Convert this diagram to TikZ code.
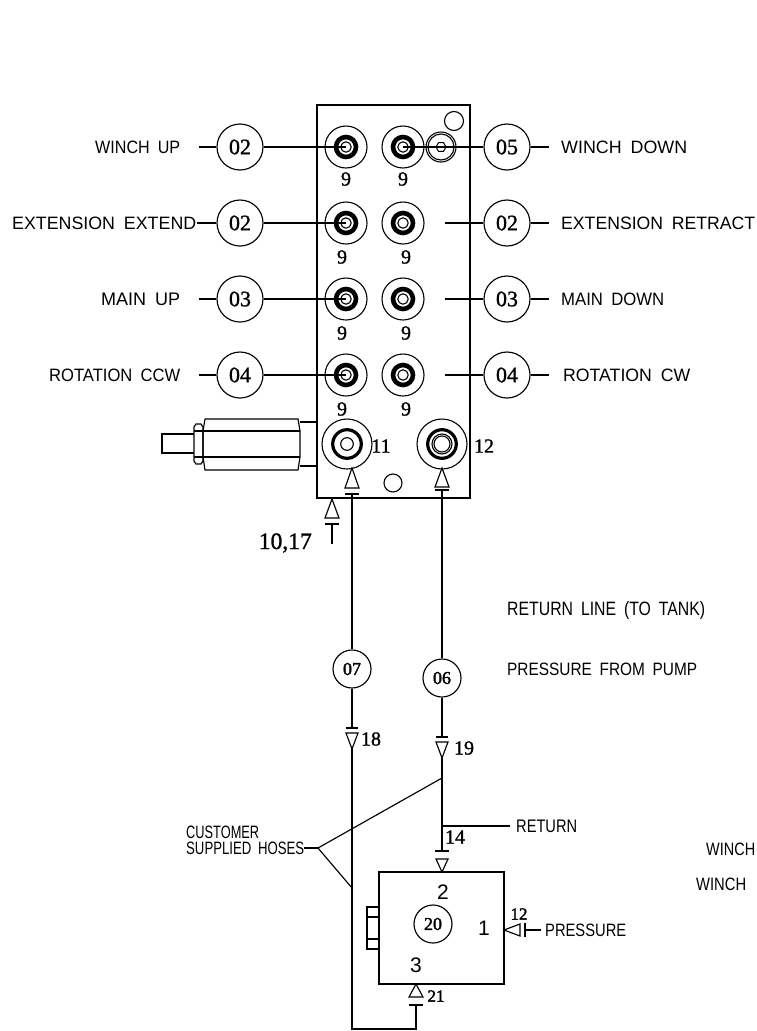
\documentclass[tikz,border=0pt]{standalone}
\usepackage{graphicx}
\usepackage{fontspec}
\setmainfont{Liberation Sans}
\newfontfamily\numfont[FakeBold=1.2]{Liberation Serif}
\newfontfamily\numbold[FakeBold=2]{Liberation Serif}
\newcommand{\gap}{\hspace{0.5em}}
\newcommand{\lbl}[2]{\resizebox{#1pt}{12.5pt}{#2}}
\newcommand{\lblp}[2]{\resizebox{#1pt}{14pt}{#2}}
\tikzset{
  line/.style={draw=black,line width=1.15pt},
  balloon/.style={circle,draw=black,line width=1.15pt,minimum size=46pt,inner sep=0pt,font=\numfont\fontsize{22}{23}\selectfont},
  sballoon/.style={balloon,minimum size=38pt,font=\numbold\fontsize{18}{19}\selectfont},
  txt/.style={inner sep=0pt,anchor=west},
  num/.style={inner sep=0pt,font=\numfont\fontsize{20}{21}\selectfont},
  numb/.style={inner sep=0pt,font=\numbold\fontsize{17}{18}\selectfont},
  pnum/.style={inner sep=0pt,font=\fontsize{21}{22}\selectfont},
  port/.style={circle,draw=black,line width=1.1pt,minimum size=42pt,inner sep=0pt},
  bigport/.style={circle,draw=black,line width=1.1pt,minimum size=50pt,inner sep=0pt}
}
\newcommand{\rings}[1]{
  \draw[line width=4.6pt] (#1) circle (10pt);
  \draw[line width=1.1pt] (#1) circle (5.2pt);
}
\newcommand{\triup}[3]{\draw[line] (#1-7,#3) -- (#1,#2) -- (#1+7,#3) -- cycle;}
\newcommand{\tridown}[3]{\draw[line] (#1-6,#2) -- (#1,#3) -- (#1+6,#2) -- cycle;}
\begin{document}
\begin{tikzpicture}[x=1pt,y=-1pt]
\useasboundingbox (0,0) rectangle (757,1031);
\fill[white] (0,0) rectangle (757,1031);

% manifold block
\node[draw=black,line width=1.3pt,minimum width=153pt,minimum height=393pt,inner sep=0pt] (block) at (393.5,301.5) {};

% ports rows 1-4
\foreach \n/\y in {1/147,2/223,3/299,4/375}{
  \node[port] (pl\n) at (346,\y) {};
  \node[port] (pr\n) at (403,\y) {};
  \rings{pl\n.center}
  \rings{pr\n.center}
}
\node[num] (n1a) at (346,179) {9};
\node[num] (n1b) at (403,179) {9};
\node[num] (n2a) at (342,257) {9};
\node[num] (n2b) at (406,257) {9};
\node[num] (n3a) at (342,333) {9};
\node[num] (n3b) at (406,333) {9};
\node[num] (n4a) at (342,409) {9};
\node[num] (n4b) at (406,409) {9};

% small details on block
\node[circle,draw=black,line width=1.1pt,minimum size=19pt,inner sep=0pt] (dotA) at (454,121) {};
\node[circle,draw=black,line width=1.1pt,minimum size=18pt,inner sep=0pt] (dotB) at (393,483) {};
\node[circle,draw=black,line width=1.1pt,minimum size=30pt,inner sep=0pt] (plugO) at (441,147) {};
\node[circle,draw=black,line width=1.1pt,minimum size=26pt,inner sep=0pt] (plugI) at (441,147) {};
\draw[line width=1pt] (441,147) ++(-5,0) -- ++(2.5,-4.3) -- ++(5,0) -- ++(2.5,4.3) -- ++(-2.5,4.3) -- ++(-5,0) -- cycle;

% balloons
\node[balloon] (bl1) at (240,147) {02};
\node[balloon] (bl2) at (240,223) {02};
\node[balloon] (bl3) at (240,299) {03};
\node[balloon] (bl4) at (240,375) {04};
\node[balloon] (br1) at (507,147) {05};
\node[balloon] (br2) at (507,223) {02};
\node[balloon] (br3) at (507,299) {03};
\node[balloon] (br4) at (507,375) {04};

% left labels
\node[txt] (t1) at (95,147) {\lbl{85}{WINCH\gap UP}};
\node[txt] (t2) at (12,223) {\lbl{184}{EXTENSION\gap EXTEND}};
\node[txt] (t3) at (101,299) {\lbl{79}{MAIN\gap UP}};
\node[txt] (t4) at (49,375) {\lbl{131}{ROTATION\gap CCW}};
% right labels
\node[txt] (t5) at (561,147) {\lbl{126}{WINCH\gap DOWN}};
\node[txt] (t6) at (561,223) {\lbl{194}{EXTENSION\gap RETRACT}};
\node[txt] (t7) at (561,299) {\lbl{103}{MAIN\gap DOWN}};
\node[txt] (t8) at (563,375) {\lbl{127}{ROTATION\gap CW}};

% leaders: left
\coordinate (a1) at (199,147);
\coordinate (a2) at (197,223);
\coordinate (a3) at (199,299);
\coordinate (a4) at (199,375);
\foreach \n in {1,2,3,4}{
  \draw[line] (a\n) -- (bl\n.west);
  \draw[line] (bl\n.east) -- (pl\n.center);
}
% leaders: right
\foreach \n in {1,2,3,4}{
  \draw[line] (br\n.east) -- (549,\n*76+71);
}
\draw[line] (br1.west) -- (pr1.center);
\coordinate (g2) at (445,223);
\coordinate (g3) at (445,299);
\coordinate (g4) at (445,375);
\draw[line] (br2.west) -- (g2);
\draw[line] (br3.west) -- (g3);
\draw[line] (br4.west) -- (g4);

% lower ports
\node[bigport] (p11) at (347,444) {};
\node[bigport] (p12) at (442,444) {};
\draw[line width=3.2pt] (p11.center) circle (14.3pt);
\draw[line width=1.1pt] (p11.center) circle (6.3pt);
\draw[line width=3.2pt] (p12.center) circle (14.3pt);
\draw[line width=1.1pt] (p12.center) circle (10pt);
\draw[line width=1.1pt] (p12.center) circle (8pt);
\node[num] (n11) at (381,446) {11};
\node[num] (n12) at (484,446) {12};

% relief valve at left
\draw[line,line width=1.3pt] (194,434) -- (162,434) -- (162,453) -- (194,453);
\draw[line] (194,427) -- (196,424) -- (201,424) -- (203,427) -- (203,461) -- (201,464) -- (196,464) -- (194,461) -- cycle;
\draw[line] (194,431) -- (203,431) (194,457) -- (203,457);
\draw[line] (203,431) -- (205,419) -- (298,419) -- (300,431) -- (300,457) -- (298,470) -- (205,470) -- (203,457) -- cycle;
\draw[line] (203,431) -- (300,431) (203,457) -- (300,457);
\draw[line] (300,422) -- (block.west |- 0,422) (300,466) -- (block.west |- 0,466);

% 10,17
\triup{332}{499}{518}
\draw[line] (325,524) -- (339,524);
\draw[line] (332,524) -- (332,544);
\node[inner sep=0pt,anchor=east,font=\numfont\fontsize{20}{21}\selectfont] (n1017) at (312,543) {\resizebox{53pt}{!}{10,17}};

% hose balloons and lines
\node[sballoon] (b07) at (352,669) {07};
\node[sballoon] (b06) at (442,678) {06};
\coordinate (top11) at (352,494);
\coordinate (top12) at (442,490);
\triup{352}{468}{488}
\draw[line] (345,494) -- (359,494);
\triup{442}{468}{487}
\draw[line] (435,490) -- (449,490);
\draw[line] (top11) -- (b07.north);
\draw[line] (top12) -- (b06.north);

% lower hose 07
\coordinate (j07) at (352,728);
\draw[line] (b07.south) -- (j07);
\draw[line] (346,728) -- (358,728);
\tridown{352}{733}{749}
\coordinate (c07) at (352,1029);
\coordinate (c21) at (416,1029);
\coordinate (b21) at (416,1005);
\draw[line] (352,749) -- (c07) -- (c21) -- (b21);
\draw[line] (409,1005) -- (423,1005);
\node[num] (n18) at (371,739) {18};

% lower hose 06
\coordinate (j06) at (442,737);
\draw[line] (b06.south) -- (j06);
\draw[line] (436,737) -- (448,737);
\tridown{442}{742}{758}
\coordinate (j14) at (442,851);
\draw[line] (442,758) -- (j14);
\draw[line] (435,851) -- (449,851);
\tridown{442}{859}{872}
\node[num] (n19) at (464,748) {19};
\node[num] (n14) at (455,837) {14};

% return
\node[txt] (tret) at (516,826) {\lbl{61}{RETURN}};
\coordinate (j142) at (442,826);
\coordinate (jret) at (510,826);
\draw[line] (j142) -- (jret);

% customer hoses
\node[inner sep=0pt,anchor=west] (tcust1) at (186,832) {\lbl{73}{CUSTOMER}};
\node[inner sep=0pt,anchor=west] (tcust2) at (186,848) {\lbl{118}{SUPPLIED\gap HOSES}};
\coordinate (cc) at (318,848);
\coordinate (cA) at (442,778);
\coordinate (cB) at (352,888);
\draw[line] (tcust2.east) -- (cc);
\draw[line] (cA) -- (cc) -- (cB);

% pump
\node[draw=black,line width=1.2pt,minimum width=125pt,minimum height=112pt,inner sep=0pt] (pump) at (441.5,928) {};
\node[sballoon] (b20) at (433,924) {20};
\node[pnum] (p2) at (443,892) {2};
\node[pnum] (p1) at (484,928) {1};
\node[pnum] (p3) at (416,965) {3};
\draw[line] (379,907) -- (367,907) -- (367,949) -- (379,949);
\draw[line] (367,917) -- (379,917) (367,939) -- (379,939);

% pressure
\node[txt] (tpress) at (545,930) {\lbl{81}{PRESSURE}};
\draw[line] (504,930) -- (520,924) -- (520,936) -- cycle;
\draw[line] (525,923) -- (525,937);
\coordinate (jpress) at (541,930);
\draw[line] (525,930) -- (jpress);
\node[numb] (n12b) at (519,914) {12};

% 21
\triup{416}{984}{997}
\node[numb] (n21) at (436,996) {21};

% loose labels
\node[txt] (l1) at (507,610) {\lblp{198}{RETURN\gap LINE\gap (TO\gap TANK)}};
\node[txt] (l2) at (507,669) {\lbl{190}{PRESSURE\gap FROM\gap PUMP}};
\node[txt] (l3) at (706,849) {\lbl{49}{WINCH}};
\node[txt] (l4) at (696,884) {\lbl{50}{WINCH}};
\end{tikzpicture}
\end{document}
